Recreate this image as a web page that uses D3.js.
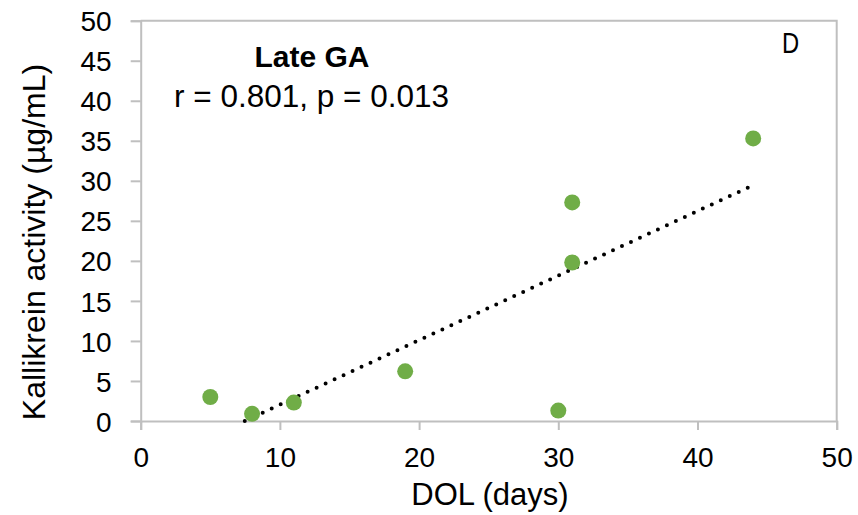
<!DOCTYPE html>
<html>
<head>
<meta charset="utf-8">
<script src="https://cdn.jsdelivr.net/npm/d3@7"></script>
<style>
  html, body { margin: 0; padding: 0; background: #fff; }
  svg { display: block; font-family: "Liberation Sans", Arial, sans-serif; }
</style>
</head>
<body>
<svg id="chart" width="858" height="515"></svg>
<script>
// Day of life (days) for each infant in the late-GA group
const dolDays = [5, 8, 11, 19, 30, 31, 31, 44];
// Plasma kallikrein activity (µg/mL)
const kallikrein = [3.0, 0.9, 2.3, 6.2, 1.3, 27.3, 19.8, 35.3];
const xTicks = [0, 10, 20, 30, 40, 50];
const yTicks = [0, 5, 10, 15, 20, 25, 30, 35, 40, 45, 50];
const panelTitle = "Late GA";
const statsLabel = "r = 0.801, p = 0.013";
const panelLetter = "D";
const xTitle = "DOL (days)";
const yTitle = "Kallikrein activity (µg/mL)";

const svg = d3.select("#chart");
const plot = { left: 140.7, right: 836.7, top: 20.7, bottom: 421 };

const x = d3.scaleLinear().domain([0, 50]).range([plot.left, plot.right]);
const y = d3.scaleLinear().domain([0, 50]).range([plot.bottom, plot.top]);

const axisGrey = "#bfbfbf";

// Frame: top and right edges of the plot area
svg.append("path")
  .attr("d", `M${plot.left},${plot.top}H${plot.right}V${plot.bottom}`)
  .attr("fill", "none").attr("stroke", axisGrey).attr("stroke-width", 2);

// Axes
const gx = svg.append("g").attr("transform", `translate(0,${plot.bottom})`)
  .call(d3.axisBottom(x).tickValues(xTicks).tickSize(9).tickPadding(17).tickFormat(d3.format("d")));
const gy = svg.append("g").attr("transform", `translate(${plot.left},0)`)
  .call(d3.axisLeft(y).tickValues(yTicks).tickSize(10).tickPadding(19).tickFormat(d3.format("d")));

[gx, gy].forEach(g => {
  g.select(".domain").attr("stroke", axisGrey).attr("stroke-width", 2);
  g.selectAll(".tick line").attr("stroke", axisGrey).attr("stroke-width", 2);
  g.selectAll(".tick text").attr("fill", "#000").attr("font-size", 28)
    .attr("font-family", "'Liberation Sans', Arial, sans-serif");
});
gy.selectAll(".tick text").attr("dy", "0.36em");

// Least-squares trendline, clipped to the plotted value range
const mx = d3.mean(dolDays), my = d3.mean(kallikrein);
const sxy = d3.sum(dolDays, (d, i) => (d - mx) * (kallikrein[i] - my));
const sxx = d3.sum(dolDays, d => (d - mx) * (d - mx));
const slope = sxy / sxx, intercept = my - slope * mx;
const xStart = Math.max(d3.min(dolDays), -intercept / slope);
const xEnd = d3.max(dolDays);
svg.append("line")
  .attr("x1", x(xStart)).attr("y1", y(slope * xStart + intercept))
  .attr("x2", x(xEnd)).attr("y2", y(slope * xEnd + intercept))
  .attr("stroke", "#000").attr("stroke-width", 4)
  .attr("stroke-linecap", "round").attr("stroke-dasharray", "0 9.9");

// Data points
svg.append("g").selectAll("circle")
  .data(dolDays.map((d, i) => [d, kallikrein[i]]))
  .join("circle")
  .attr("cx", d => x(d[0])).attr("cy", d => y(d[1]))
  .attr("r", 8).attr("fill", "#70ad47");

// Annotations
svg.append("text").attr("x", 312).attr("y", 67).attr("text-anchor", "middle")
  .attr("font-size", 30).attr("font-weight", "bold").text(panelTitle);
svg.append("text").attr("x", 311.5).attr("y", 107).attr("text-anchor", "middle")
  .attr("font-size", 31.5).text(statsLabel);
svg.append("text").attr("transform", "translate(790.5,53) scale(0.82,1)")
  .attr("text-anchor", "middle").attr("font-size", 29).text(panelLetter);

// Axis titles
svg.append("text").attr("x", 490).attr("y", 505).attr("text-anchor", "middle")
  .attr("font-size", 31).text(xTitle);
svg.append("text").attr("transform", "translate(45,242) rotate(-90)")
  .attr("text-anchor", "middle").attr("font-size", 32).text(yTitle);
</script>
</body>
</html>
